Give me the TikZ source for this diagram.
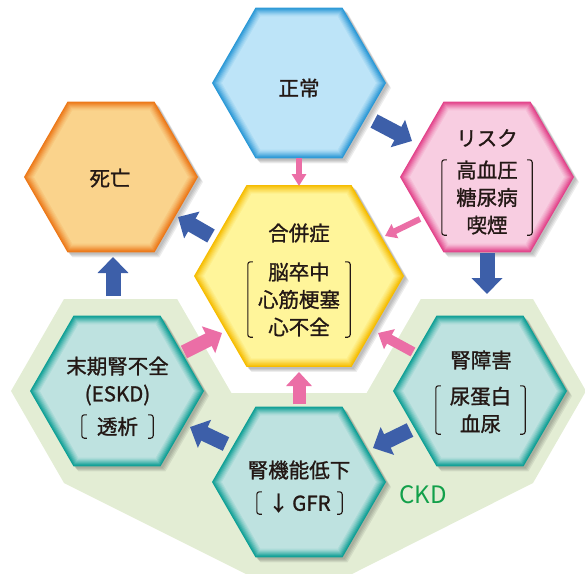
\documentclass[tikz,border=0pt]{standalone}
\usepackage{fontspec}
\setmainfont{Noto Sans CJK JP}
\newfontfamily\medfont{Noto Sans CJK JP}[FakeBold=1.2]
\usetikzlibrary{arrows.meta,calc}
\definecolor{ink}{HTML}{231815}
\definecolor{blueB}{HTML}{2A98D6}
\definecolor{blueF}{HTML}{BDE4F8}
\definecolor{pinkB}{HTML}{E2428A}
\definecolor{pinkF}{HTML}{F8CDE1}
\definecolor{orangeB}{HTML}{EC7818}
\definecolor{orangeF}{HTML}{FAD38C}
\definecolor{yelB}{HTML}{F6BC00}
\definecolor{yelF}{HTML}{FFF59A}
\definecolor{tealB}{HTML}{0E9F95}
\definecolor{tealF}{HTML}{BEE2E0}
\definecolor{ckdbg}{HTML}{E3EDD4}
\definecolor{ckdtext}{HTML}{12A04A}
\definecolor{arrB}{HTML}{3D5FA9}
\definecolor{arrP}{HTML}{EB6EA6}
\newcommand\brackets[1]{%
  \draw[brk] ($(#1.north west)+(5,0)$) -- (#1.north west) -- (#1.south west) -- ($(#1.south west)+(5,0)$);
  \draw[brk] ($(#1.north east)+(-5,0)$) -- (#1.north east) -- (#1.south east) -- ($(#1.south east)+(-5,0)$);}
\begin{document}
\begin{tikzpicture}[x=1pt,y=-1pt,
  lbl/.style={text=ink, font=\medfont\fontsize{20.5}{27.5}\selectfont, align=center, inner sep=0pt},
  lst/.style 2 args={lbl, minimum width=#1, minimum height=#2},
  brk/.style={draw=ink, line width=1.1pt, rounded corners=2.5pt},
  arr/.style n args={4}{draw=#1, line width=#2, -{Triangle[width=#3,length=#4]}},
  ckdlbl/.style={text=ckdtext, font=\fontsize{24}{28}\selectfont, inner sep=0pt}]
\useasboundingbox (0,0) rectangle (585,573);
% CKD background
\fill[ckdbg] (11,391) -- (64,299) -- (533,299) -- (586,391) -- (533,483) -- (352,574) -- (246,574) -- (64,483) -- cycle;
\fill[white] (299,276) +(0:135) -- +(60:135) -- +(120:135) -- +(180:135) -- +(240:135) -- +(300:135) -- cycle;
% centres
\coordinate (normal) at (299,83);
\coordinate (risk) at (487,177);
\coordinate (death) at (111,177);
\coordinate (comp) at (299,276);
\coordinate (eskd) at (117,391);
\coordinate (renal) at (480,391);
\coordinate (gfr) at (299,482);
% hexagons
\foreach \c/\R/\bc/\fc in {normal/87/blueB/blueF, risk/87/pinkB/pinkF, death/87/orangeB/orangeF, comp/105/yelB/yelF, eskd/87/tealB/tealF, renal/87/tealB/tealF, gfr/87/tealB/tealF}{
  \foreach \o in {2,3,4,5}{
    \fill[black,opacity=0.07] ($(\c)+(\o,\o)$) +(0:\R) -- +(60:\R) -- +(120:\R) -- +(180:\R) -- +(240:\R) -- +(300:\R) -- cycle;
  }
  \foreach \i/\pc in {0/100,1/88,2/74,3/60,4/46,5/33,6/21,7/11}{
    \pgfmathsetmacro\rr{\R-1.25*\i}
    \fill[\bc!\pc!\fc] (\c) +(0:\rr) -- +(60:\rr) -- +(120:\rr) -- +(180:\rr) -- +(240:\rr) -- +(300:\rr) -- cycle;
  }
  \pgfmathsetmacro\rr{\R-10}
  \fill[\fc] (\c) +(0:\rr) -- +(60:\rr) -- +(120:\rr) -- +(180:\rr) -- +(240:\rr) -- +(300:\rr) -- cycle;
}
% labels
\node[lbl] (tnormal) at (299,88) {正常};
\node[lbl] (tdeath) at (110,178) {死亡};
\node[lbl] (tcomp) at (299,233) {合併症};
\node[lst={102}{75}] (lcomp) at (299,299.5) {脳卒中\\心筋梗塞\\心不全};
\brackets{lcomp}
\node[lbl] (trisk) at (487,138) {リスク};
\node[lst={90}{75}] (lrisk) at (487,197.5) {高血圧\\糖尿病\\喫煙};
\brackets{lrisk}
\node[lbl] (teskd) at (117.5,381) {末期腎不全\\(ESKD)};
\node[lst={71}{23}] (leskd) at (117.5,426.5) {透析};
\brackets{leskd}
\node[lbl] (trenal) at (481,360) {腎障害};
\node[lst={89}{48}] (lrenal) at (480.5,410) {尿蛋白\\血尿};
\brackets{lrenal}
\node[lbl] (tgfr) at (299,470) {腎機能低下};
\node[lst={85}{22}] (lgfr) at (299.5,503) {↓\,GFR};
\brackets{lgfr}
\node[ckdlbl] (ckd) at (423,495) {CKD};
% blue arrows
\draw[arr={arrB}{15pt}{30pt}{16pt}] ($(normal)+(75,38)$) -- ($(risk)+(-75,-36)$);
\draw[arr={arrB}{15pt}{30pt}{16pt}] ($(risk)+(0,76)$) -- ($(renal)+(7,-97)$);
\draw[arr={arrB}{15pt}{30pt}{16pt}] ($(renal)+(-70,39)$) -- ($(gfr)+(74,-34)$);
\draw[arr={arrB}{15pt}{30pt}{16pt}] ($(gfr)+(-73,-38)$) -- ($(eskd)+(73,36)$);
\draw[arr={arrB}{15pt}{30pt}{16pt}] ($(eskd)+(-4,-95)$) -- ($(death)+(2,80)$);
\draw[arr={arrB}{15pt}{30pt}{16pt}] ($(comp)+(-88,-40)$) -- ($(death)+(67,40)$);
% pink arrows
\draw[arr={arrP}{6pt}{14pt}{12pt}] ($(normal)+(0,75)$) -- ($(comp)+(0,-90)$);
\draw[arr={arrP}{6pt}{15pt}{11pt}] ($(risk)+(-67,42)$) -- ($(comp)+(86,-40)$);
\draw[arr={arrP}{10pt}{22pt}{13pt}] ($(renal)+(-67,-39)$) -- ($(comp)+(79,57)$);
\draw[arr={arrP}{13pt}{25pt}{14pt}] ($(gfr)+(0,-78)$) -- ($(comp)+(0,96)$);
\draw[arr={arrP}{14pt}{29pt}{15pt}] ($(eskd)+(67,-39)$) -- ($(comp)+(-77,57)$);
\end{tikzpicture}
\end{document}
